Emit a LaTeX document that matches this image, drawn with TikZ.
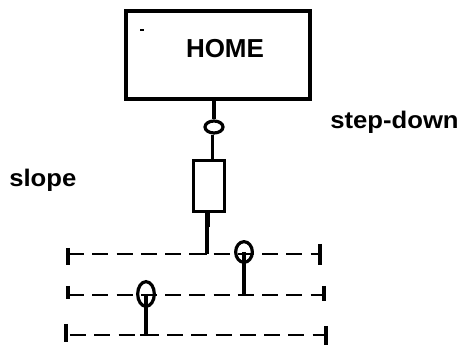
\documentclass[tikz,border=0pt]{standalone}
\usepackage{fontspec}
\setmainfont{Liberation Sans}
\usetikzlibrary{shapes.geometric}
\tikzset{
  px/.style={x=0.75pt,y=-0.75pt},
  ink/.style={line width=2.6pt,black},
  thinink/.style={line width=1.8pt,black},
  dashline/.style={line width=1.8pt,black,dash pattern=on 12pt off 6.2pt},
  oval/.style={ellipse,draw=black,line width=2.4pt,inner sep=0pt,fill=none},
  lbl/.style={font=\bfseries\fontsize{18}{20}\selectfont,inner sep=0pt,anchor=base west,xscale=1.07},
}
\begin{document}
\begin{tikzpicture}[px]
\useasboundingbox (0,0) rectangle (462,345);
\fill[white] (0,0) rectangle (462,345);
% home
\node[draw=black,line width=2.8pt,minimum width=138pt,minimum height=65.5pt,inner sep=0pt] (home) at (218,55) {};
\node[font=\fontsize{19.5}{21}\selectfont\bfseries,inner sep=0pt] (hometext) at (225,49) {HOME};
\node[fill=black,minimum width=3pt,minimum height=1.8pt,inner sep=0pt] (speck) at (142,30) {};
% step-down oval
\node[oval,minimum width=13.5pt,minimum height=9pt] (sd) at (214,127) {};
\node[draw=black,line width=2.4pt,minimum width=23pt,minimum height=38pt,inner sep=0pt] (slopebox) at (209,186) {};
\coordinate (homefoot) at (214,98);
\coordinate (boxtop) at (212.5,160);
\draw[ink] (homefoot) -- (sd.north);
\draw[ink] (sd.south -| boxtop) -- (boxtop);
% labels
\node[lbl] (sdl) at (330,129) {step-down};
\node[lbl] (sl) at (9,187) {slope};
% rails
\coordinate (a1) at (68,254); \coordinate (a2) at (320,254);
\coordinate (b1) at (68,295); \coordinate (b2) at (324,295);
\coordinate (c1) at (70,335); \coordinate (c2) at (326,335);
\draw[dashline] (a1) -- (a2);
\draw[dashline] (b1) -- (b2);
\draw[dashline] (c1) -- (c2);
\draw[ink] (68,248) -- (68,265);
\draw[ink] (320,244) -- (320,265);
\draw[ink] (68,286) -- (68,299);
\draw[ink] (324,286) -- (324,301);
\draw[ink] (66,324) -- (66,342);
\draw[ink] (326,326) -- (326,345);
% drop to top rail
\coordinate (drop) at (207,254);
\draw[ink] (slopebox.south -| drop) -- (drop);
\draw[line width=3.6pt] (208,212) -- (208,227);
\draw[thinink] (190,254) -- (drop);
% ovals with stems
\node[oval,minimum width=12.5pt,minimum height=15.5pt] (o1) at (244,252) {};
\node[oval,minimum width=12.5pt,minimum height=18.5pt] (o2) at (146,294) {};
\coordinate (s1) at (244,295);
\coordinate (s2) at (146,335);
\draw[ink] (o1.center) -- (s1);
\draw[ink] (o2.center) -- (s2);
\draw[thinink] (238,295) -- (252,295);
\draw[thinink] (140,335) -- (158,335);
\end{tikzpicture}
\end{document}
